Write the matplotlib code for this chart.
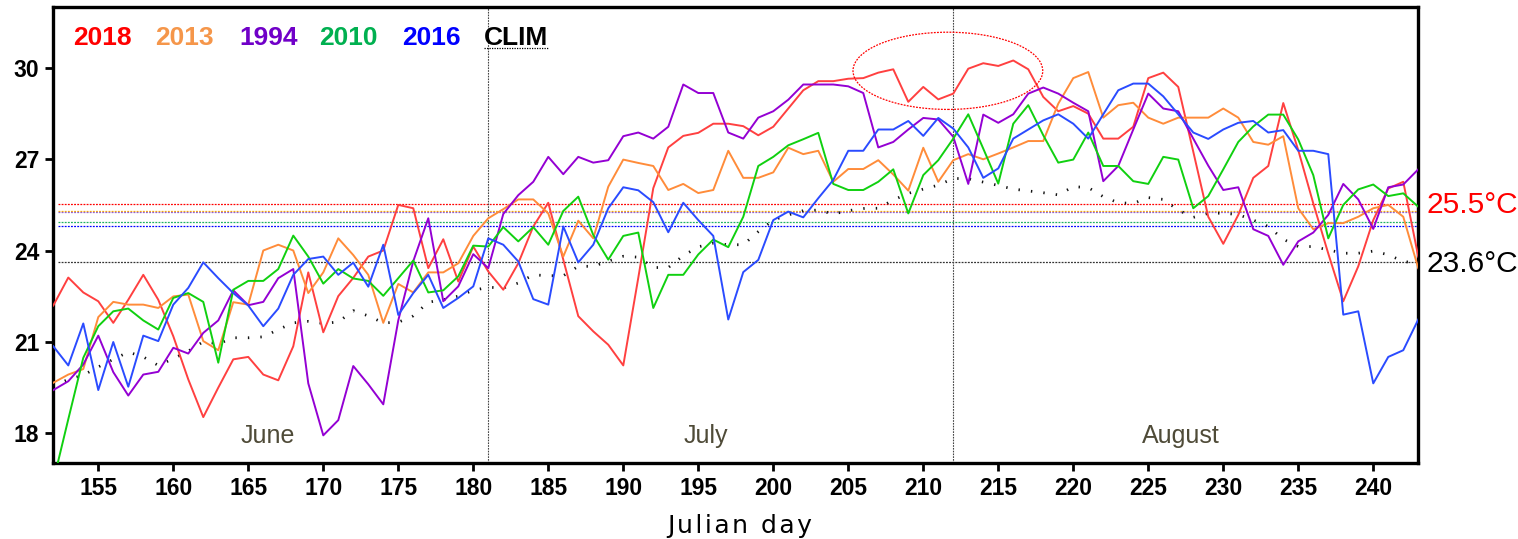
import matplotlib
matplotlib.use("Agg")
import matplotlib.pyplot as plt
from matplotlib.patches import Ellipse
import matplotlib.transforms as mtransforms
import numpy as np

days = list(range(152, 244))

y2018 = [22.19, 23.11, 22.62, 22.33, 21.62, 22.38, 23.2, 22.38, 21.18, 19.76,
         18.52, 19.49, 20.42, 20.5, 19.92, 19.73, 20.85, 23.28, 21.31, 22.5,
         23.1, 23.8, 24.0, 25.5, 25.39, 23.42, 24.37, 22.98, 24.13, 23.31,
         22.71, 23.58, 24.79, 25.57, 23.7, 21.84, 21.34, 20.9, 20.22, 23.1,
         26.05, 27.39, 27.77, 27.87, 28.17, 28.17, 28.09, 27.79, 28.07, 28.67,
         29.27, 29.57, 29.57, 29.65, 29.67, 29.85, 29.96, 28.89, 29.38, 28.97,
         29.16, 29.98, 30.16, 30.07, 30.25, 29.96, 29.05, 28.58, 28.75, 28.5,
         27.68, 27.68, 28.07, 29.67, 29.85, 29.38, 27.25, 25.11, 24.22, 25.17,
         26.39, 26.78, 28.85, 27.3, 25.55, 23.9, 22.33, 23.48, 25.0, 26.04,
         26.26, 23.8]

y2013 = [19.65, 19.92, 20.1, 21.81, 22.31, 22.22, 22.22, 22.11, 22.49, 22.55,
         21.02, 20.72, 22.3, 22.22, 24.0, 24.19, 24.0, 22.6, 23.28, 24.4,
         23.85, 23.2, 21.62, 22.9, 22.62, 23.28, 23.28, 23.58, 24.48, 25.06,
         25.36, 25.68, 25.68, 25.22, 23.8, 24.98, 24.4, 26.1, 26.99, 26.88,
         26.78, 25.99, 26.19, 25.89, 25.99, 27.28, 26.39, 26.39, 26.57, 27.38,
         27.17, 27.28, 26.26, 26.68, 26.68, 26.97, 26.5, 25.97, 27.38, 26.26,
         26.97, 27.17, 27.0, 27.19, 27.39, 27.6, 27.6, 28.83, 29.67, 29.87,
         28.37, 28.78, 28.86, 28.37, 28.17, 28.37, 28.37, 28.37, 28.67, 28.37,
         27.57, 27.48, 27.76, 25.39, 24.7, 24.9, 24.9, 25.11, 25.39, 25.5,
         25.11, 23.42]

y1994 = [19.41, 19.7, 20.25, 21.2, 20.0, 19.23, 19.92, 20.01, 20.8, 20.61,
         21.29, 21.7, 22.69, 22.2, 22.31, 23.09, 23.39, 19.63, 17.92, 18.42,
         20.2, 19.6, 18.94, 21.7, 23.65, 25.06, 22.33, 22.82, 23.88, 23.42,
         25.2, 25.82, 26.26, 27.08, 26.51, 27.08, 26.89, 26.97, 27.76, 27.88,
         27.68, 28.07, 29.46, 29.18, 29.18, 27.88, 27.68, 28.37, 28.58, 28.96,
         29.46, 29.46, 29.46, 29.4, 29.18, 27.39, 27.57, 27.98, 28.36, 28.31,
         27.74, 26.19, 28.47, 28.2, 28.48, 29.16, 29.36, 29.16, 28.86, 28.58,
         26.28, 26.78, 27.98, 29.16, 28.67, 28.58, 27.68, 26.79, 25.99, 26.08,
         24.7, 24.48, 23.53, 24.3, 24.59, 25.17, 26.19, 25.68, 24.71, 26.08,
         26.17, 26.67]

y2010 = [16.4, 18.45, 20.47, 21.51, 22.0, 22.09, 21.7, 21.4, 22.44, 22.6,
         22.31, 20.31, 22.71, 23.0, 23.0, 23.39, 24.49, 23.8, 22.91, 23.39,
         23.08, 23.0, 22.51, 23.09, 23.67, 22.62, 22.69, 23.15, 24.16, 24.13,
         24.77, 24.3, 24.77, 24.19, 25.3, 25.77, 24.51, 23.7, 24.48, 24.59,
         22.11, 23.2, 23.2, 23.87, 24.36, 24.11, 25.11, 26.78, 27.08, 27.46,
         27.66, 27.87, 26.19, 25.99, 25.99, 26.26, 26.67, 25.22, 26.48, 26.97,
         27.68, 28.48, 27.35, 26.2, 28.17, 28.78, 27.79, 26.89, 26.99, 27.88,
         26.78, 26.78, 26.28, 26.19, 27.08, 26.99, 25.39, 25.79, 26.67, 27.57,
         28.08, 28.47, 28.47, 27.65, 26.48, 24.4, 25.5, 26.01, 26.17, 25.79,
         25.88, 25.44]

y2016 = [20.85, 20.22, 21.6, 19.41, 20.99, 19.52, 21.2, 21.02, 22.22, 22.77,
         23.61, 23.09, 22.6, 22.19, 21.51, 22.09, 23.2, 23.72, 23.8, 23.2,
         23.6, 22.81, 24.19, 21.88, 22.6, 23.2, 22.11, 22.44, 22.82, 24.4,
         24.19, 23.64, 22.4, 22.22, 24.79, 23.61, 24.19, 25.39, 26.08, 25.98,
         25.59, 24.6, 25.57, 25.0, 24.48, 21.73, 23.29, 23.69, 25.0, 25.28,
         25.09, 25.72, 26.32, 27.28, 27.28, 27.98, 27.98, 28.26, 27.77, 28.36,
         28.01, 27.39, 26.39, 26.7, 27.68, 27.98, 28.28, 28.48, 28.17, 27.68,
         28.48, 29.27, 29.49, 29.49, 29.07, 28.48, 27.88, 27.67, 27.98, 28.2,
         28.26, 27.88, 27.96, 27.28, 27.28, 27.17, 21.89, 22.0, 19.63, 20.5,
         20.72, 21.73]

yclim = [19.54, 19.76, 19.9, 20.17, 20.42, 20.66, 20.5, 20.22, 20.44, 20.69,
         21.0, 20.93, 21.13, 21.13, 21.16, 21.4, 21.62, 21.67, 21.6, 21.65,
         22.02, 21.85, 21.62, 21.64, 21.85, 22.3, 22.38, 22.5, 22.69, 22.79,
         22.77, 22.93, 23.2, 23.17, 23.17, 23.48, 23.48, 23.65, 23.81, 23.78,
         23.44, 23.44, 23.83, 24.12, 24.24, 24.19, 24.19, 24.62, 25.0, 25.17,
         25.31, 25.33, 25.2, 25.31, 25.38, 25.39, 25.66, 25.88, 26.02, 26.15,
         26.37, 26.36, 26.25, 26.14, 26.02, 25.96, 25.9, 25.83, 26.1, 26.07,
         25.77, 25.57, 25.55, 25.74, 25.68, 25.33, 25.09, 25.22, 25.23, 25.18,
         25.0, 24.79, 24.37, 24.13, 24.13, 24.02, 23.91, 23.91, 23.98, 23.86,
         23.64, 23.58]

series_labels = ["2018", "2013", "1994", "2010", "2016"]
series_values = [y2018, y2013, y1994, y2010, y2016]
line_colors = ["#ff4040", "#ff8c3a", "#9400d3", "#10d010", "#2a4bff"]
text_colors = ["#ff0000", "#f5964a", "#7000c8", "#00b050", "#0000ff"]
mean_colors = ["#ff0000", "#ffb000", "#9060d0", "#20b060", "#0000ff"]
mean_values = [25.53, 25.31, 25.28, 24.93, 24.80]
clim_mean = 23.61

months = ["June", "July", "August"]
month_x = [166.3, 195.5, 227.2]
month_ends = [181, 212]

xticks = list(range(155, 241, 5))
yticks = [18, 21, 24, 27, 30]

fig = plt.figure(figsize=(15.18, 5.39), dpi=100)
ax = fig.add_axes([0.0351, 0.1404, 0.8992, 0.8461])
ax.set_xlim(152, 243)
ax.set_ylim(17, 32)

# mean reference lines
for mv, mc in zip(mean_values, mean_colors):
    ax.hlines(mv, 152.3, 243, colors=mc, linestyles=(0, (1.5, 1)), linewidth=0.9, zorder=1)
ax.hlines(clim_mean, 152.3, 243, colors="#333333", linestyles=(0, (1.5, 1)), linewidth=0.9, zorder=1)

# month boundaries
for me in month_ends:
    ax.axvline(me, color="#444444", linestyle=(0, (1.5, 1)), linewidth=0.8, zorder=1)

# climatology
ax.plot(days, yclim, color="#111111", linewidth=2.0, linestyle=(0, (0.5, 4.0)), zorder=2)

# series
for vals, col in zip(series_values, line_colors):
    ax.plot(days, vals, color=col, linewidth=1.4, zorder=3)

# ellipse highlight
ell = Ellipse((211.64, 29.91), width=12.65, height=2.54, fill=False,
              edgecolor="#ff0000", linestyle=(0, (1.5, 1)), linewidth=0.9, zorder=4)
ax.add_patch(ell)

# legend texts
leg_x = [0.0147, 0.0745, 0.136, 0.1949, 0.2552]
for lx, lab, tc in zip(leg_x, series_labels, text_colors):
    ax.text(lx, 0.917, lab, transform=ax.transAxes, color=tc, fontsize=19,
            fontweight="bold", family="Liberation Sans", va="baseline", ha="left")
ax.text(0.3155, 0.917, "CLIM", transform=ax.transAxes, color="black", fontsize=19,
        fontweight="bold", family="Liberation Sans", va="baseline", ha="left")
ax.plot([0.3155, 0.3624], [0.9114, 0.9114], transform=ax.transAxes, color="black",
        linestyle=(0, (1, 1)), linewidth=0.9, clip_on=False)

# month labels
for mx, mn in zip(month_x, months):
    ax.text(mx, 17.89, mn, color="#4f4b38", fontsize=18, family="Liberation Sans",
            ha="center", va="center")

# right-side labels
trans = mtransforms.blended_transform_factory(ax.transAxes, ax.transData)
ax.text(1.006, 25.5, "25.5°C", transform=trans, color="#ff0000", fontsize=21.5,
        family="Liberation Sans", ha="left", va="center")
ax.text(1.006, 23.55, "23.6°C", transform=trans, color="black", fontsize=21.5,
        family="Liberation Sans", ha="left", va="center")

ax.set_xticks(xticks)
ax.set_yticks(yticks)
ax.set_xticklabels([str(t) for t in xticks])
ax.set_yticklabels([str(t) for t in yticks])
ax.tick_params(axis="both", direction="out", length=6, width=2, labelsize=16.5, pad=4)
for lab in ax.get_xticklabels() + ax.get_yticklabels():
    lab.set_fontweight("bold")
    lab.set_family("Liberation Sans")
for sp in ax.spines.values():
    sp.set_linewidth(2.4)

fig.text(0.487, 0.024, "J\u200au\u200al\u200ai\u200aa\u200an\u200a \u200ad\u200aa\u200ay",
         family=["DejaVu Sans"], fontweight="normal", fontsize=18,
         ha="center", va="center", color="black")

fig.savefig("out.png", dpi=100)
